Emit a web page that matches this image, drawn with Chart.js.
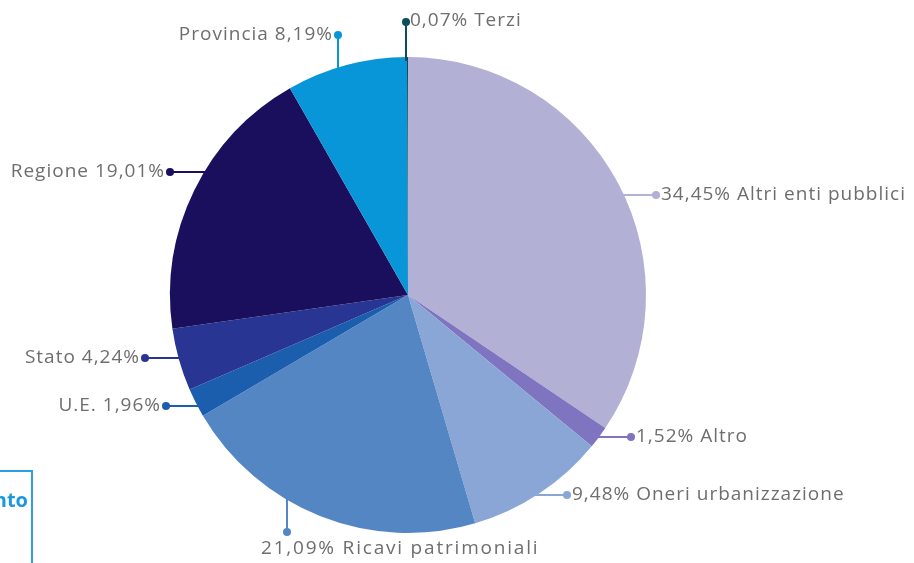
<!DOCTYPE html>
<html>
<head>
<meta charset="utf-8">
<script src="https://cdn.jsdelivr.net/npm/chart.js@4.4.1/dist/chart.umd.min.js"></script>
<style>
  html, body { margin: 0; padding: 0; background: #ffffff; }
  #wrap { position: relative; width: 914px; height: 563px; overflow: hidden; }
  #box {
    position: absolute; left: -200px; top: 470px; width: 233px; height: 140px;
    border: 2px solid #2a9fe3; box-sizing: border-box;
    font-family: "Open Sans", sans-serif; font-weight: bold; font-size: 20px;
    color: #1c98dc; text-align: right; padding: 14px 3px 0 0;
  }
</style>
</head>
<body>
<div id="wrap">
  <canvas id="pieChart" width="914" height="563"></canvas>
  <div id="box">nto</div>
</div>
<script>
// Fonti di finanziamento (%)
const categories = ['Altri enti pubblici', 'Altro', 'Oneri urbanizzazione', 'Ricavi patrimoniali',
                    'U.E.', 'Stato', 'Regione', 'Provincia', 'Terzi'];
const shares = [34.45, 1.52, 9.48, 21.09, 1.96, 4.24, 19.01, 8.19, 0.07];
const sliceColors = ['#b3b0d6', '#7f74bf', '#8aa6d6', '#5586c4', '#1b5eae',
                     '#283592', '#1a0f5d', '#0996d8', '#0d4c5b'];

// posizione delle etichette rispetto al centro della torta
const labelLayout = [
    { dir: 'right', dx: 248, dy: -100 },
    { dir: 'right', dx: 223, dy: 142 },
    { dir: 'right', dx: 159, dy: 200 },
    { dir: 'down',  dx: -121, dy: 237 },
    { dir: 'left',  dx: -242, dy: 111 },
    { dir: 'left',  dx: -263, dy: 63 },
    { dir: 'left',  dx: -238, dy: -123 },
    { dir: 'up',    dx: -70, dy: -260 },
    { dir: 'upRight', dx: -2, dy: -273 }
];

function fmt(v) {
    return v.toFixed(2).replace('.', ',') + '%';
}

const leaderLabels = {
    id: 'leaderLabels',
    afterDraw(chart) {
        const ctx = chart.ctx;
        const arc = chart.getDatasetMeta(0).data[0];
        const cx = arc.x, cy = arc.y, r = arc.outerRadius;
        ctx.save();
        ctx.font = '19px "Open Sans", sans-serif';
        ctx.textBaseline = 'middle';
        labelLayout.forEach((l, i) => {
            const px = cx + l.dx, py = cy + l.dy;
            let sx, sy;
            if (l.dir === 'right' || l.dir === 'left') {
                sy = py;
                const h = Math.sqrt(Math.max(r * r - l.dy * l.dy, 0));
                sx = l.dir === 'right' ? cx + h - 4 : cx - h + 4;
            } else {
                sx = px;
                const h = Math.sqrt(Math.max(r * r - l.dx * l.dx, 0));
                sy = l.dir === 'down' ? cy + h - 4 : cy - h + 4;
            }
            ctx.letterSpacing = '0px';
            ctx.strokeStyle = sliceColors[i];
            ctx.lineWidth = 2;
            ctx.beginPath();
            ctx.moveTo(sx, sy);
            ctx.lineTo(px, py);
            ctx.stroke();
            ctx.fillStyle = sliceColors[i];
            ctx.beginPath();
            ctx.arc(px, py, 4, 0, Math.PI * 2);
            ctx.fill();

            ctx.fillStyle = '#6e6e6e';
            ctx.letterSpacing = l.dir === 'down' ? '1.8px' : '1px';
            const val = fmt(shares[i]);
            if (l.dir === 'right') {
                ctx.textAlign = 'left';
                ctx.fillText(val + ' ' + categories[i], px + 5, py);
            } else if (l.dir === 'left' || l.dir === 'up') {
                ctx.textAlign = 'right';
                ctx.fillText(categories[i] + ' ' + val, px - 5, py);
            } else if (l.dir === 'upRight') {
                ctx.textAlign = 'left';
                ctx.fillText(val + ' ' + categories[i], px + 4, py - 1);
            } else {
                ctx.textAlign = 'left';
                ctx.fillText(val + ' ' + categories[i], px - 26, py + 17);
            }
        });
        ctx.restore();
    }
};

new Chart(document.getElementById('pieChart').getContext('2d'), {
    type: 'pie',
    data: {
        labels: categories,
        datasets: [{
            data: shares,
            backgroundColor: sliceColors,
            borderWidth: 0
        }]
    },
    options: {
        responsive: false,
        animation: false,
        layout: {
            padding: { left: 0, right: 98, top: 57, bottom: 30 }
        },
        plugins: {
            legend: { display: false },
            tooltip: { enabled: false }
        }
    },
    plugins: [leaderLabels]
});
</script>
</body>
</html>
